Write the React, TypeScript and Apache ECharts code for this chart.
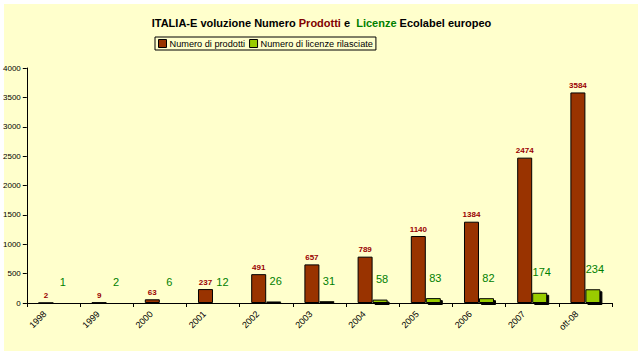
import React, { useEffect, useRef } from "react";
import * as echarts from "echarts";

const categories = ["1998", "1999", "2000", "2001", "2002", "2003", "2004", "2005", "2006", "2007", "ott-08"];
const prodotti = [2, 9, 63, 237, 491, 657, 789, 1140, 1384, 2474, 3584];
const licenze = [1, 2, 6, 12, 26, 31, 58, 83, 82, 174, 234];
const seriesNames = ["Numero di prodotti", "Numero di licenze rilasciate"];

const FONT = "'Liberation Sans', Arial, sans-serif";

export default function App() {
  const ref = useRef<HTMLDivElement>(null);
  useEffect(() => {
    if (!ref.current) return;
    const chart = echarts.init(ref.current, null, { renderer: "svg" });
    chart.setOption({
      animation: false,
      backgroundColor: "#ffffff",
      graphic: [
        {
          type: "rect",
          z: -10,
          silent: true,
          shape: { x: 4, y: 4, width: 634, height: 347 },
          style: { fill: "#FFFFCC" },
        },
      ],
      title: {
        left: "center",
        top: 12,
        text: "ITALIA-E voluzione Numero {p|Prodotti} e  {l|Licenze} Ecolabel europeo",
        textStyle: {
          fontFamily: FONT,
          fontSize: 11,
          fontWeight: "bold",
          color: "#000",
          rich: {
            p: { fontFamily: FONT, fontSize: 11, fontWeight: "bold", color: "#800000" },
            l: { fontFamily: FONT, fontSize: 11, fontWeight: "bold", color: "#008000" },
          },
        },
      },
      legend: {
        left: 155,
        top: 37,
        padding: [2, 3, 2, 3],
        itemGap: 4,
        itemWidth: 8,
        itemHeight: 8,
        borderColor: "#000",
        borderWidth: 1,
        backgroundColor: "#FFFFCC",
        textStyle: { fontFamily: FONT, fontSize: 9.2, color: "#000", padding: [0, 0, 0, -2] },
        data: seriesNames.map((n) => ({ name: n, icon: "rect", itemStyle: { borderColor: "#000", borderWidth: 1 } })),
      },
      grid: { left: 25, right: 31, top: 68, bottom: 53 },
      xAxis: {
        type: "category",
        data: categories,
        axisLine: { lineStyle: { color: "#000", width: 1 } },
        axisTick: { show: true, length: 4, lineStyle: { color: "#000" } },
        axisLabel: {
          rotate: 45,
          fontFamily: FONT,
          fontSize: 9,
          color: "#000",
          margin: 1,
          padding: [0, 12, 0, 0],
        },
      },
      yAxis: {
        type: "value",
        min: 0,
        max: 4000,
        interval: 500,
        axisLine: { show: true, lineStyle: { color: "#000", width: 1 } },
        axisTick: { show: true, length: 4, lineStyle: { color: "#000" } },
        splitLine: { show: false },
        axisLabel: {
          fontFamily: FONT,
          fontSize: 8,
          color: "#000",
          margin: 6,
          formatter: (v: number) => String(v),
        },
      },
      series: [
        {
          name: seriesNames[0],
          type: "bar",
          data: prodotti,
          barWidth: 15,
          barGap: "0%",
          itemStyle: {
            color: "#993300",
            borderColor: "#000",
            borderWidth: 1,
          },
          label: {
            show: true,
            position: "top",
            distance: 3,
            fontFamily: FONT,
            fontSize: 8,
            fontWeight: "bold",
            color: "#990000",
          },
        },
        {
          name: seriesNames[1],
          type: "bar",
          data: licenze,
          barWidth: 15,
          barGap: "0%",
          itemStyle: {
            color: "#99CC00",
            borderColor: "#000",
            borderWidth: 1,
            shadowColor: "#000",
            shadowOffsetX: 2,
            shadowOffsetY: 2,
            shadowBlur: 0,
          },
          label: {
            show: true,
            position: "top",
            distance: 15,
            offset: [2, 0],
            fontFamily: FONT,
            fontSize: 11,
            color: "#008000",
          },
        },
      ],
    });
    return () => chart.dispose();
  }, []);
  return <div ref={ref} style={{ position: "fixed", left: 0, top: 0, width: 643, height: 356 }} />;
}
